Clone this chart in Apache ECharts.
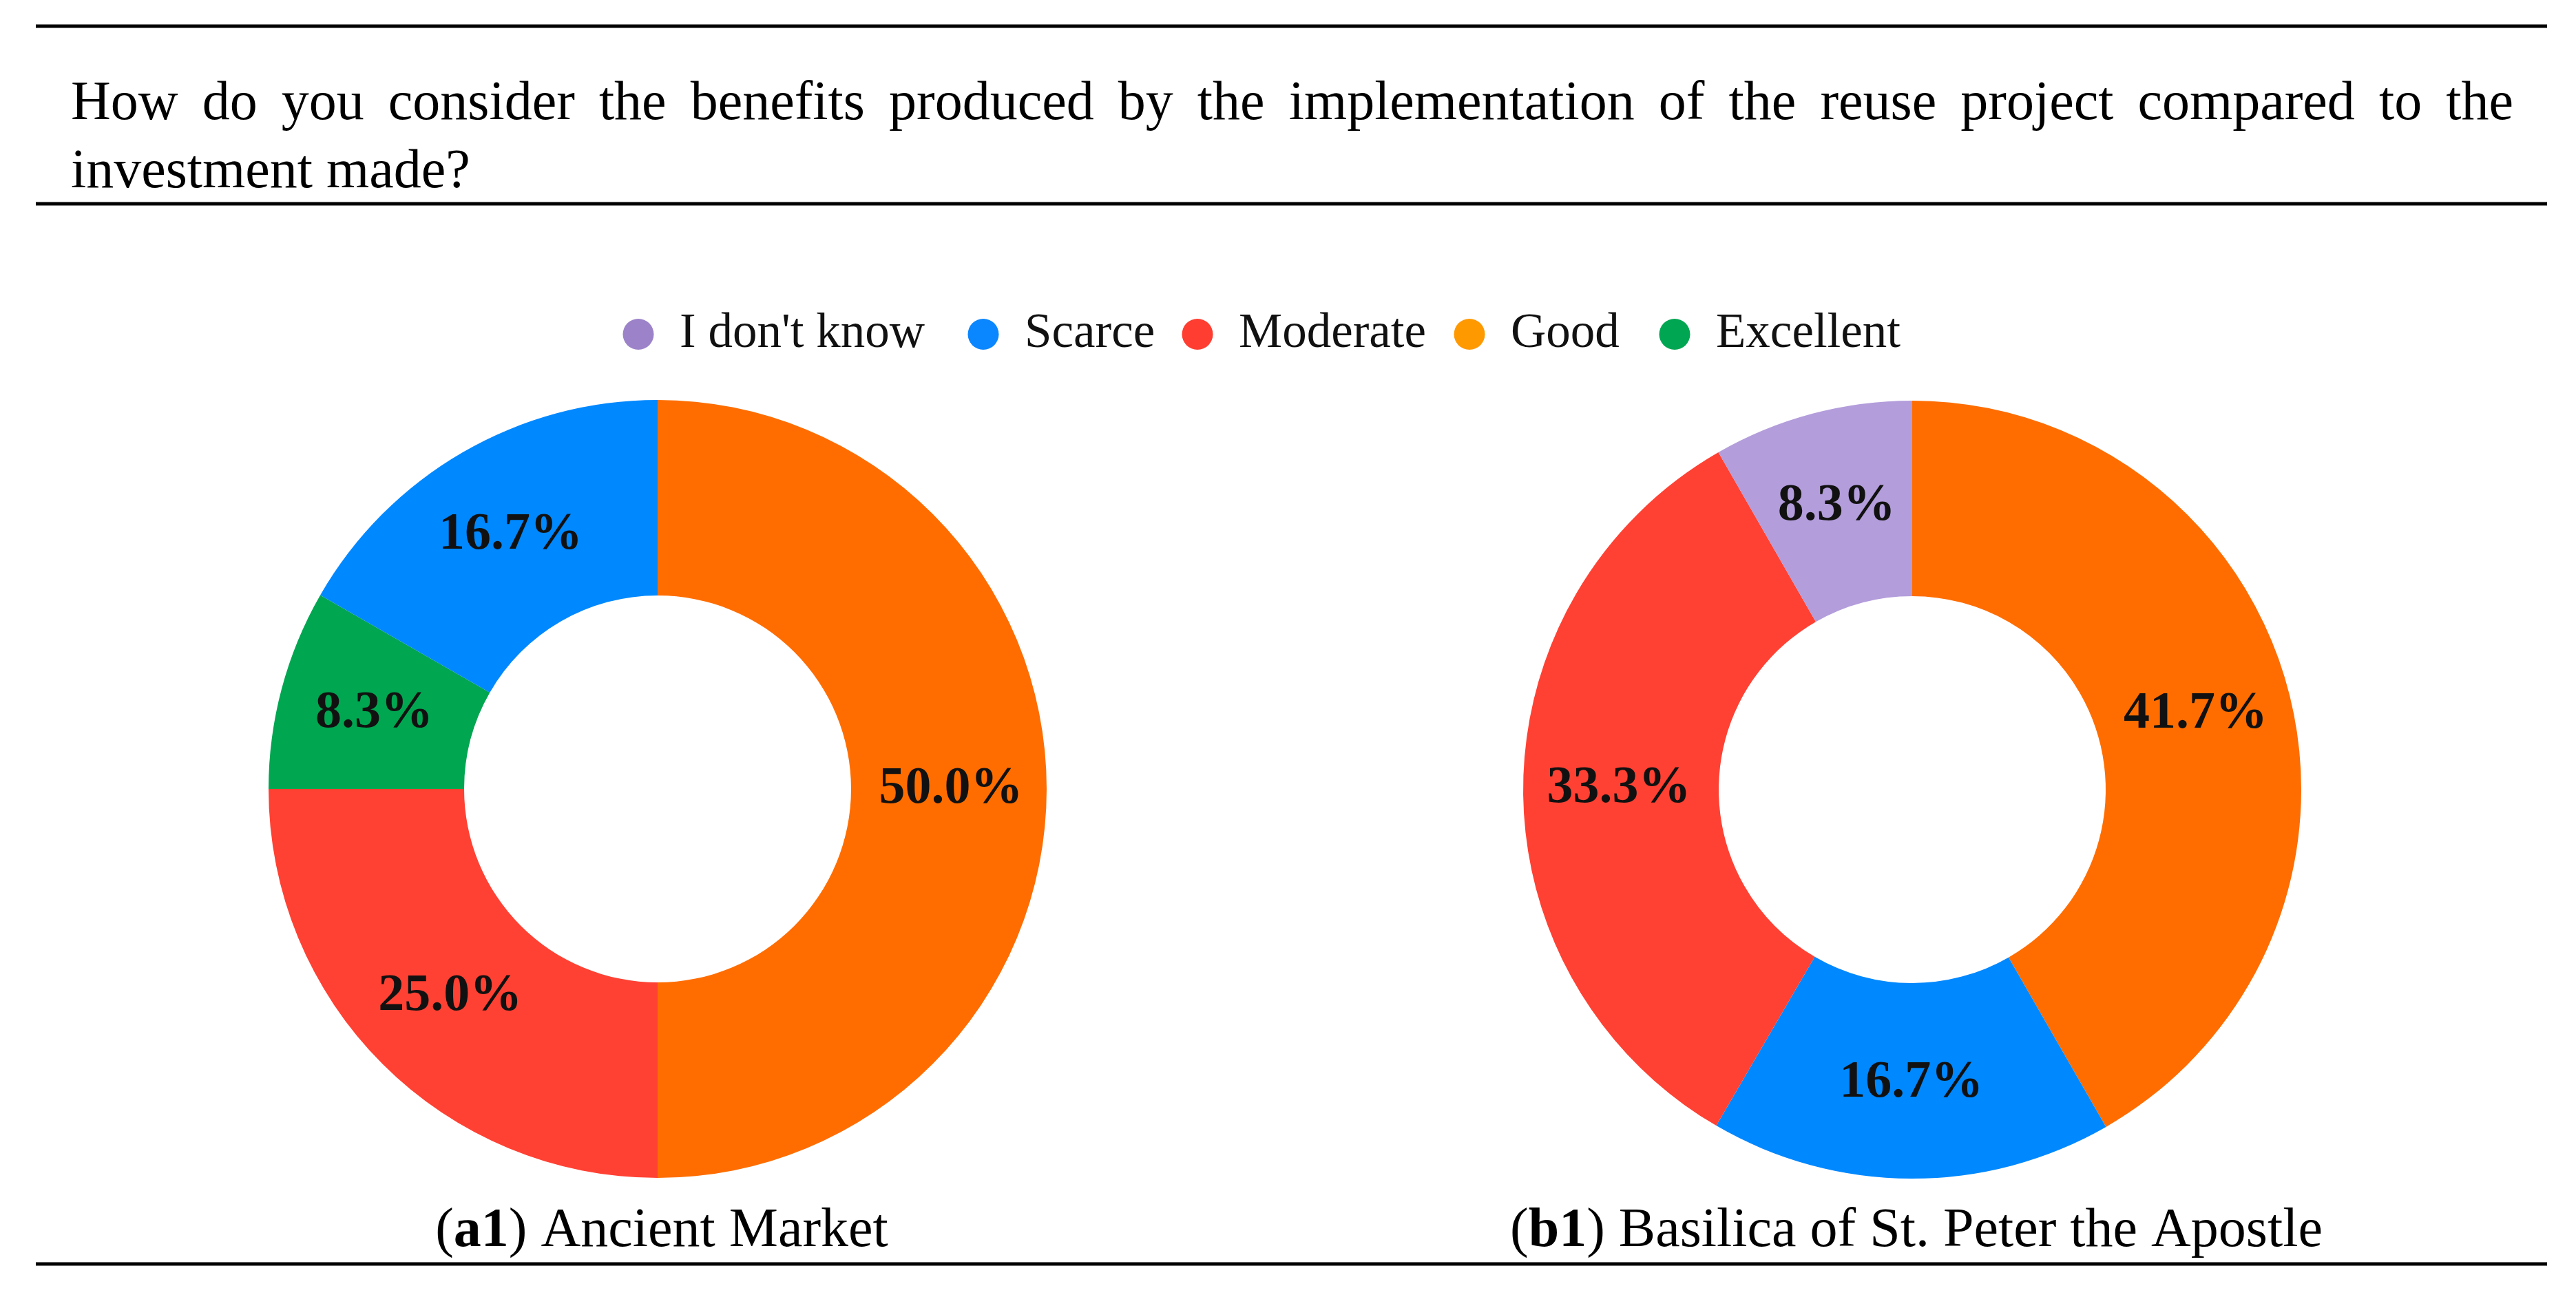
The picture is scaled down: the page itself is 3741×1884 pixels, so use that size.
<!DOCTYPE html>
<html>
<head>
<meta charset="utf-8">
<script src="https://cdn.jsdelivr.net/npm/echarts@6/dist/echarts.min.js"></script>
<style>
html,body{margin:0;padding:0;background:#fff;}
#chart{width:3741px;height:1884px;}
</style>
</head>
<body>
<div id="chart"></div>
<script>
// ---- data ----
const categories = ["I don't know", "Scarce", "Moderate", "Good", "Excellent"];
const marketNames = ["Good", "Moderate", "Excellent", "Scarce"];
const marketValues = [50.0, 25.0, 8.3, 16.7];
const basilicaNames = ["Good", "Scarce", "Moderate", "I don't know"];
const basilicaValues = [41.7, 16.7, 33.3, 8.3];
const questionLines = [
  "How do you consider the benefits produced by the implementation of the reuse project compared to the",
  "investment made?"
];
const captionTags = ["a1", "b1"];
const captionTexts = ["Ancient Market", "Basilica of St. Peter the Apostle"];

// ---- styles ----
const sliceColors = {"I don't know": "#B39DDB", "Scarce": "#0088FF", "Moderate": "#FF4133", "Good": "#FF6D00", "Excellent": "#00A650"};
const legendColors = {"I don't know": "#9C83C9", "Scarce": "#0A86FF", "Moderate": "#FF3D30", "Good": "#FF9900", "Excellent": "#00A651"};
const legendCenters = [927, 1428, 1739, 2134, 2432];
const SERIF = '"Liberation Serif", "DejaVu Serif", serif';

const chart = echarts.init(document.getElementById('chart'), null, {renderer: 'canvas'});

const measureCtx = document.createElement('canvas').getContext('2d');
function justified(text, x0, x1, y, size) {
  const font = size + 'px ' + SERIF;
  measureCtx.font = font;
  const words = text.split(' ');
  const widths = words.map(w => measureCtx.measureText(w).width);
  const total = widths.reduce((a, b) => a + b, 0);
  const gap = (x1 - x0 - total) / (words.length - 1);
  const els = [];
  let x = x0;
  words.forEach((w, i) => {
    els.push({type: 'text', x: x, y: y, style: {text: w, font: font, fill: '#000', align: 'left', verticalAlign: 'middle'}});
    x += widths[i] + gap;
  });
  return els;
}

const graphics = [];
// horizontal rules
[38, 296, 1836].forEach(y => {
  graphics.push({type: 'rect', shape: {x: 52, y: y - 2.5, width: 3647, height: 5}, style: {fill: '#000'}});
});
graphics.push(...justified(questionLines[0], 103, 3650, 152, 80));
graphics.push({type: 'text', x: 103, y: 251, style: {text: questionLines[1], font: '80px ' + SERIF, fill: '#000', align: 'left', verticalAlign: 'middle'}});
const capX = [961, 2783];
captionTags.forEach((t, i) => {
  graphics.push({type: 'text', x: capX[i], y: 1789, style: {
    text: '({b|' + t + '}) ' + captionTexts[i],
    fontFamily: SERIF, fontSize: 80, fill: '#000', align: 'center', verticalAlign: 'middle',
    rich: {b: {fontFamily: SERIF, fontSize: 80, fontWeight: 'bold', fill: '#000'}}
  }});
});

const legends = categories.map((c, i) => ({
  left: legendCenters[i] - 22.5 - 5,
  top: 445,
  icon: 'circle',
  itemWidth: 110,
  itemHeight: 45,
  selectedMode: false,
  textStyle: {fontFamily: SERIF, fontSize: 71, color: '#111'},
  data: [{name: c, itemStyle: {color: legendColors[c]}}]
}));

function pieData(names, values) {
  return names.map((n, i) => ({name: n, value: values[i], itemStyle: {color: sliceColors[n]}}));
}
const labelCfg = {
  show: true, position: 'inside',
  formatter: p => p.value.toFixed(1) + '%',
  fontFamily: SERIF, fontWeight: 'bold', fontSize: 76, color: '#111'
};

chart.setOption({
  backgroundColor: '#fff',
  animation: false,
  legend: legends,
  graphic: graphics,
  series: [
    {type: 'pie', center: [955, 1146], radius: [281, 565], startAngle: 90, clockwise: true,
     label: labelCfg, labelLine: {show: false}, itemStyle: {borderWidth: 0}, emphasis: {disabled: true},
     data: pieData(marketNames, marketValues)},
    {type: 'pie', center: [2777, 1147], radius: [281, 565], startAngle: 90, clockwise: true,
     label: labelCfg, labelLine: {show: false}, itemStyle: {borderWidth: 0}, emphasis: {disabled: true},
     data: pieData(basilicaNames, basilicaValues)}
  ]
});
</script>
</body>
</html>
